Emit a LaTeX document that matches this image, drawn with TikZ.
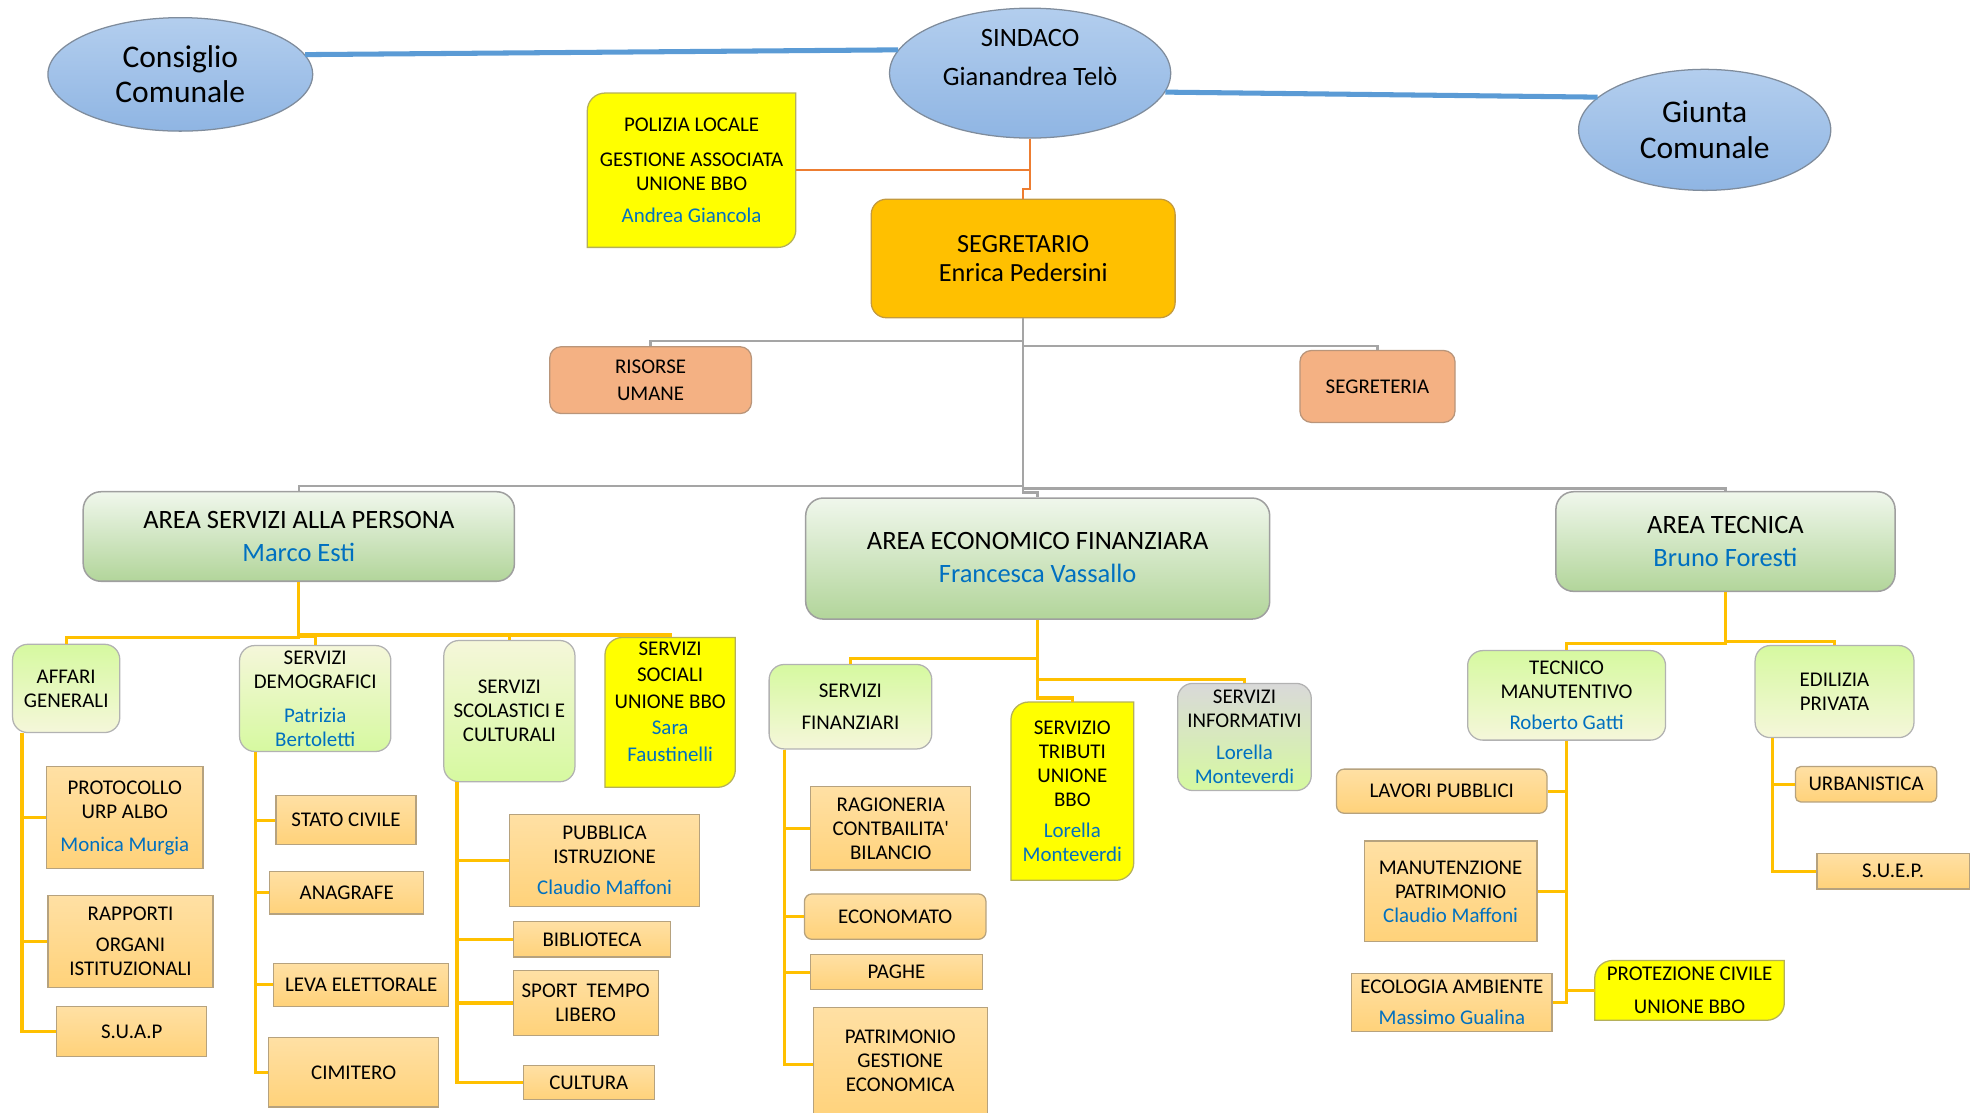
\documentclass[tikz,border=0pt]{standalone}
\usepackage{fontspec}
\setmainfont{Carlito}
\usetikzlibrary{shapes.geometric}
\usetikzlibrary{backgrounds}
\usetikzlibrary{calc}
\definecolor{bluline}{HTML}{5B9BD5}
\definecolor{ovaltop}{HTML}{B3CEEE}
\definecolor{ovalbot}{HTML}{8FB5E3}
\definecolor{ovalbordo}{HTML}{7F8C9C}
\definecolor{capocol}{HTML}{FFC000}
\definecolor{capobordo}{HTML}{C49A3C}
\definecolor{staffcol}{HTML}{F4B183}
\definecolor{staffbordo}{HTML}{B9957A}
\definecolor{areatop}{HTML}{F0F7EC}
\definecolor{areabot}{HTML}{B2D59A}
\definecolor{servtop}{HTML}{D6F9A0}
\definecolor{servbot}{HTML}{F5F7DA}
\definecolor{grigino}{HTML}{D9D9D9}
\definecolor{fogliatop}{HTML}{FFE0A4}
\definecolor{fogliabot}{HTML}{FFD27A}
\definecolor{fogliabordo}{HTML}{B6A27E}
\definecolor{giallo}{HTML}{FFFF00}
\definecolor{giallobordo}{HTML}{B5B05A}
\definecolor{nomeblu}{HTML}{0070C0}
\definecolor{arancio}{HTML}{ED7D31}
\definecolor{grigio}{HTML}{A5A5A5}
\definecolor{gialink}{HTML}{FFC000}
\newcommand{\grande}{\fontsize{25}{28}\selectfont}
\newcommand{\medio}{\fontsize{21}{26}\selectfont}
\newcommand{\segr}{\fontsize{20.8}{23}\selectfont}
\newcommand{\piccolo}{\fontsize{16.6}{19}\selectfont}
\newcommand{\nome}[1]{\textcolor{nomeblu}{#1}}
\tikzset{ovale/.style = {ellipse, draw=ovalbordo, line width=1pt, top color=ovaltop, bottom color=ovalbot,
                         align=center, font=\grande, inner sep=0pt}}
\tikzset{capo/.style = {rectangle, rounded corners=12pt, draw=capobordo, line width=1pt, fill=capocol,
                        align=center, font=\segr}}
\tikzset{staff/.style = {rectangle, rounded corners=9pt, draw=staffbordo, line width=1pt, fill=staffcol,
                         align=center, font=\piccolo}}
\tikzset{settore/.style = {rectangle, rounded corners=14pt, draw=gray!75, line width=1.2pt,
                           top color=areatop, bottom color=areabot, align=center, font=\medio}}
\tikzset{servizio/.style = {rectangle, rounded corners=12pt, draw=gray!60, line width=1pt,
                            top color=servtop, bottom color=servbot, align=center, font=\piccolo}}
\tikzset{unione/.style = {rectangle, align=center, font=\piccolo}}
\tikzset{foglia/.style = {rectangle, draw=fogliabordo, line width=1pt, top color=fogliatop,
                          bottom color=fogliabot, align=center, font=\piccolo}}
\tikzset{blulink/.style = {draw=bluline, line width=4pt}}
\tikzset{arlink/.style = {draw=arancio, line width=2pt}}
\tikzset{grlink/.style = {draw=grigio, line width=2pt}}
\tikzset{gilink/.style = {draw=gialink, line width=2.5pt}}

\begin{document}
\begin{tikzpicture}[x=1pt, y=-1pt]
      \useasboundingbox (0,0) rectangle (1568,882.7);

      \node [ovale, minimum width=210pt, minimum height=90pt] (consiglio) at (143,59) {Consiglio\\Comunale};
      \node [ovale, font=\fontsize{21}{31}\selectfont, minimum width=223pt, minimum height=103pt] (sindaco) at (817,58)
            {SINDACO\\Gianandrea Telò\\[-6pt]\mbox{}};
      \node [ovale, minimum width=200pt, minimum height=96pt] (giunta) at (1352,103) {Giunta\\Comunale};

      \node [unione, minimum width=165pt, minimum height=122pt] (polizia) at (548.5,135)
            {POLIZIA LOCALE\\[9pt]GESTIONE ASSOCIATA\\UNIONE BBO\\[6pt]\nome{Andrea Giancola}};
      \node [capo, minimum width=241pt, minimum height=94pt] (segretario) at (811.5,205) {SEGRETARIO\\Enrica Pedersini};

      \node [staff, minimum width=160pt, minimum height=53pt] (risorse) at (516,301.5) {RISORSE\\[2pt]UMANE};
      \node [staff, minimum width=123pt, minimum height=57pt] (segreteria) at (1092.5,306.5) {SEGRETERIA};

      \node [settore, minimum width=342pt, minimum height=71pt] (areaP) at (237,425.5)
            {AREA SERVIZI ALLA PERSONA\\\nome{Marco Esti}};
      \node [settore, minimum width=368pt, minimum height=96pt] (areaE) at (823,443)
            {\mbox{}\\[-14pt]AREA ECONOMICO FINANZIARA\\\nome{Francesca Vassallo}};
      \node [settore, minimum width=269pt, minimum height=79pt] (areaT) at (1368.5,429.5)
            {AREA TECNICA\\\nome{Bruno Foresti}};

      \node [servizio, minimum width=85pt, minimum height=70pt] (affari) at (52.5,546) {AFFARI\\GENERALI};
      \node [servizio, top color=servbot, bottom color=servtop, minimum width=120pt, minimum height=84pt] (demografici) at (250,554)
            {SERVIZI\\DEMOGRAFICI\\[8pt]\nome{Patrizia}\\\nome{Bertoletti}};
      \node [servizio, top color=servbot, bottom color=servtop, minimum width=104pt, minimum height=112pt] (scolastici) at (404,564)
            {SERVIZI\\SCOLASTICI E\\CULTURALI};
      \node [unione, minimum width=103pt, minimum height=114pt] (sociali) at (531.5,565)
            {SERVIZI\\[2pt]SOCIALI\\[2pt]UNIONE BBO\\[2pt]\nome{Sara}\\[2pt]\nome{Faustinelli}\\[-2pt]\mbox{}};

      \node [foglia, minimum width=124pt, minimum height=81pt] (protocollo) at (99,648.5)
            {PROTOCOLLO\\URP ALBO\\[7pt]\nome{Monica Murgia}};
      \node [foglia, minimum width=131pt, minimum height=73pt] (rapporti) at (103.5,746.5) {RAPPORTI\\[6pt]ORGANI\\ISTITUZIONALI};
      \node [foglia, minimum width=119pt, minimum height=40pt] (suap) at (104.5,818) {S.U.A.P};

      \node [foglia, minimum width=111pt, minimum height=39pt] (statocivile) at (274.5,650.5) {STATO CIVILE};
      \node [foglia, minimum width=122pt, minimum height=34pt] (anagrafe) at (275,708) {ANAGRAFE};
      \node [foglia, minimum width=139pt, minimum height=34pt] (leva) at (286.5,781) {LEVA ELETTORALE};
      \node [foglia, minimum width=135pt, minimum height=55pt] (cimitero) at (280.5,850.5) {CIMITERO};

      \node [foglia, minimum width=151pt, minimum height=73pt] (istruzione) at (479.5,682.5)
            {PUBBLICA\\ISTRUZIONE\\[6pt]\nome{Claudio Maffoni}};
      \node [foglia, minimum width=125pt, minimum height=28pt] (biblioteca) at (469.5,745) {BIBLIOTECA};
      \node [foglia, minimum width=115pt, minimum height=51pt] (sport) at (464.5,795.5) {SPORT~~TEMPO\\LIBERO};
      \node [foglia, minimum width=104pt, minimum height=27pt] (cultura) at (467,858.5) {CULTURA};

      \node [servizio, minimum width=129pt, minimum height=67pt] (finanziari) at (674.5,560.5) {SERVIZI\\[7pt]FINANZIARI};
      \node [unione, minimum width=97pt, minimum height=141pt] (tributi) at (850.5,627.5)
            {SERVIZIO\\TRIBUTI\\UNIONE\\BBO\\[6pt]\nome{Lorella}\\\nome{Monteverdi}};
      \node [servizio, top color=grigino, bottom color=servtop, minimum width=106pt, minimum height=85pt] (informativi) at (987,584.5)
            {SERVIZI\\INFORMATIVI\\[6pt]\nome{Lorella}\\\nome{Monteverdi}};

      \node [foglia, minimum width=127pt, minimum height=66pt] (ragioneria) at (706.5,657)
            {RAGIONERIA\\CONTBAILITA\textquotesingle\\BILANCIO};
      \node [foglia, rounded corners=6pt, minimum width=144pt, minimum height=36pt] (economato) at (710,727) {ECONOMATO};
      \node [foglia, minimum width=136pt, minimum height=28pt] (paghe) at (711,771) {PAGHE};
      \node [foglia, minimum width=138pt, minimum height=91pt] (patrimonio) at (714,844.5)
            {PATRIMONIO\\GESTIONE\\ECONOMICA\\[-12pt]\mbox{}};

      \node [servizio, minimum width=157pt, minimum height=71pt] (tecnico) at (1242.5,551.5)
            {TECNICO\\MANUTENTIVO\\[6pt]\nome{Roberto Gatti}};
      \node [servizio, minimum width=126pt, minimum height=73pt] (edilizia) at (1455,548.5) {EDILIZIA\\PRIVATA};

      \node [foglia, rounded corners=6pt, minimum width=167pt, minimum height=35pt] (lavori) at (1143.5,627.5) {LAVORI PUBBLICI};
      \node [foglia, minimum width=137pt, minimum height=80pt] (manutenzione) at (1150.5,707)
            {MANUTENZIONE\\PATRIMONIO\\\nome{Claudio Maffoni}};
      \node [foglia, minimum width=159pt, minimum height=46pt] (ecologia) at (1151.5,795)
            {ECOLOGIA AMBIENTE\\[6pt]\nome{Massimo Gualina}};
      \node [unione, minimum width=150pt, minimum height=47pt] (protezione) at (1340,785.5)
            {PROTEZIONE CIVILE\\[7pt]UNIONE BBO};
      \node [foglia, rounded corners=4pt, minimum width=112pt, minimum height=28pt] (urbanistica) at (1480,622) {URBANISTICA};
      \node [foglia, minimum width=121pt, minimum height=28pt] (suep) at (1501.5,691) {S.U.E.P.};

      \begin{pgfonlayer}{background}
        \foreach \n in {polizia, sociali, tributi, protezione}
          \filldraw [fill=giallo, draw=giallobordo, line width=1pt]
                (\n.north) [sharp corners] -- (\n.north east)
                [rounded corners=14pt] -- (\n.south east)
                [sharp corners] -- (\n.south west)
                [rounded corners=14pt] -- (\n.north west)
                [sharp corners] -- cycle;
      \end{pgfonlayer}

      \draw [blulink] (consiglio.9) -- (sindaco.170);
      \draw [blulink] (sindaco.-8) -- (giunta.163);

      \draw [arlink] (sindaco.south) |- (polizia.east);
      \draw [arlink] (sindaco.south) -- ++(0,40) -| (segretario.north);

      \draw [grlink] (segretario.south) -- ++(0,18) -| (risorse.north);
      \draw [grlink] (segretario.south) -- ++(0,22) -| (segreteria.north);
      \draw [grlink] (segretario.south) -- ++(0,133) -| (areaP.north);
      \draw [grlink] (segretario.south) -- ++(0,135) -| (areaT.north);
      \draw [grlink] (segretario.south) -- ++(0,138) -| (areaE.north);

      \draw [gilink] (areaP.south) -- ++(0,44) -| (affari.north);
      \draw [gilink] (areaP.south) -- ++(0,43) -| (demografici.north);
      \draw [gilink] (areaP.south) -- ++(0,42) -| (scolastici.north);
      \draw [gilink] (areaP.south) -- ++(0,42) -| (sociali.north);

      \draw [gilink] ($(affari.south west)+(8,0)$) |- (protocollo.west);
      \draw [gilink] ($(affari.south west)+(8,0)$) |- (rapporti.west);
      \draw [gilink] ($(affari.south west)+(8,0)$) |- (suap.west);

      \draw [gilink] ($(demografici.south west)+(13,0)$) |- (statocivile.west);
      \draw [gilink] ($(demografici.south west)+(13,0)$) |- (anagrafe.west);
      \draw [gilink] ($(demografici.south west)+(13,0)$) |- (leva.west);
      \draw [gilink] ($(demografici.south west)+(13,0)$) |- (cimitero.west);

      \draw [gilink] ($(scolastici.south west)+(11,0)$) |- (istruzione.west);
      \draw [gilink] ($(scolastici.south west)+(11,0)$) |- (biblioteca.west);
      \draw [gilink] ($(scolastici.south west)+(11,0)$) |- (sport.west);
      \draw [gilink] ($(scolastici.south west)+(11,0)$) |- (cultura.west);

      \draw [gilink] (areaE.south) -- ++(0,31) -| (finanziari.north);
      \draw [gilink] (areaE.south) -- ++(0,62) -| (tributi.north);
      \draw [gilink] (areaE.south) -- ++(0,47) -| (informativi.north);

      \draw [gilink] ($(finanziari.south west)+(13,0)$) |- (ragioneria.west);
      \draw [gilink] ($(finanziari.south west)+(13,0)$) |- (economato.west);
      \draw [gilink] ($(finanziari.south west)+(13,0)$) |- (paghe.west);
      \draw [gilink] ($(finanziari.south west)+(13,0)$) |- (patrimonio.west);

      \draw [gilink] (areaT.south) -- ++(0,41) -| (tecnico.north);
      \draw [gilink] (areaT.south) -- ++(0,39) -| (edilizia.north);

      \draw [gilink] (tecnico.south) |- (lavori.east);
      \draw [gilink] (tecnico.south) |- (manutenzione.east);
      \draw [gilink] (tecnico.south) |- (ecologia.east);
      \draw [gilink] (tecnico.south) |- (protezione.west);

      \draw [gilink] ($(edilizia.south west)+(14,0)$) |- (urbanistica.west);
      \draw [gilink] ($(edilizia.south west)+(14,0)$) |- (suep.west);
\end{tikzpicture}
\end{document}
